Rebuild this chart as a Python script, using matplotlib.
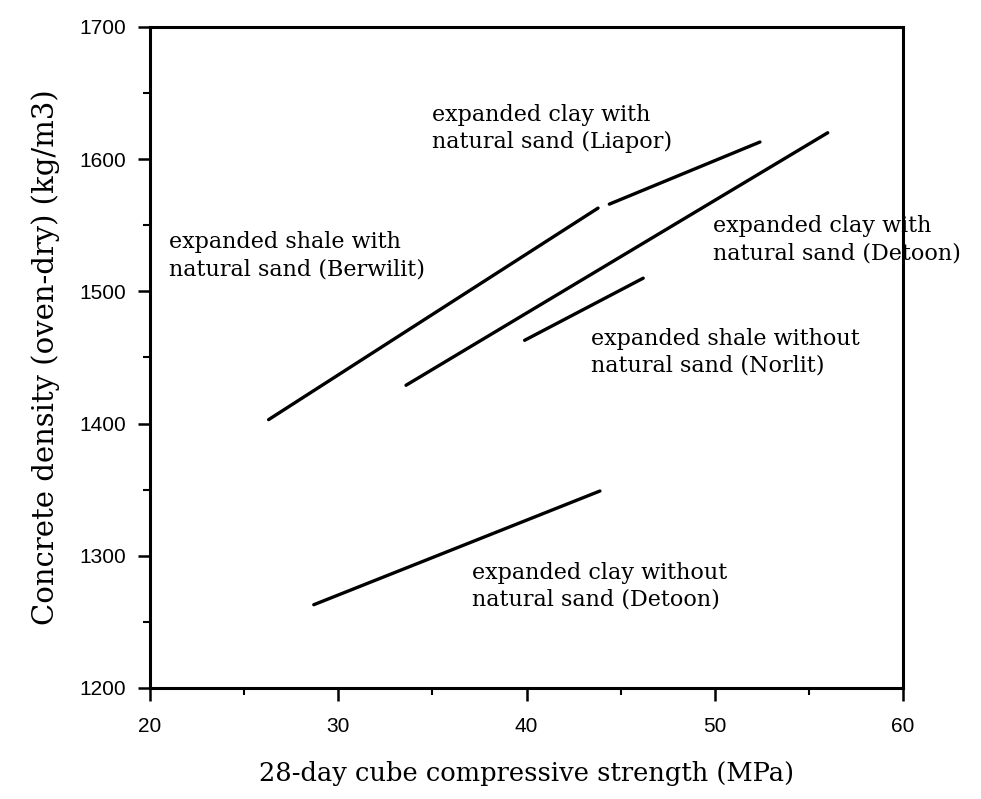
import numpy as np
import matplotlib
matplotlib.use("Agg")
from matplotlib import pyplot as plt
from matplotlib.ticker import MultipleLocator

# strength (MPa) / density (kg/m3) end points of each fitted line
berwilit_x = [26.3, 43.8]
berwilit_y = [1403, 1563]
liapor_x = [44.4, 52.4]
liapor_y = [1566, 1613]
detoon_sand_x = [33.6, 56.0]
detoon_sand_y = [1429, 1620]
norlit_x = [39.9, 46.2]
norlit_y = [1463, 1510]
detoon_x = [28.7, 43.9]
detoon_y = [1263, 1349]

labels = ["expanded shale with\nnatural sand (Berwilit)",
          "expanded clay with\nnatural sand (Liapor)",
          "expanded clay with\nnatural sand (Detoon)",
          "expanded shale without\nnatural sand (Norlit)",
          "expanded clay without\nnatural sand (Detoon)"]
label_x = [21.0, 35.0, 49.9, 43.4, 37.1]
label_y = [1527, 1623, 1539, 1454, 1277]

serif = "DejaVu Serif"
sans = "Liberation Sans"

fig = plt.figure(figsize=(9.81, 7.99), dpi=100)
ax = fig.add_axes([150/981, 1-688/799, (903-150)/981, (688-27)/799])

for xs, ys in [(berwilit_x, berwilit_y), (liapor_x, liapor_y),
               (detoon_sand_x, detoon_sand_y), (norlit_x, norlit_y),
               (detoon_x, detoon_y)]:
    ax.plot(xs, ys, color='black', lw=2.4, solid_capstyle='round')

for t, x, y in zip(labels, label_x, label_y):
    ax.text(x, y, t, family=serif, fontsize=16, ha='left', va='center',
            linespacing=1.3)

ax.set_xlim(20, 60)
ax.set_ylim(1200, 1700)
ax.xaxis.set_major_locator(MultipleLocator(10))
ax.xaxis.set_minor_locator(MultipleLocator(5))
ax.yaxis.set_major_locator(MultipleLocator(100))
ax.yaxis.set_minor_locator(MultipleLocator(50))
ax.tick_params(which='major', direction='out', length=9, width=1.8,
               labelsize=15, labelfontfamily=sans, pad=8)
ax.tick_params(which='minor', direction='out', length=5, width=1.5)
ax.tick_params(axis='x', which='major', pad=12)
for s in ax.spines.values():
    s.set_linewidth(2.2)

ax.set_xlabel("28-day cube compressive strength (MPa)", family=serif,
              fontsize=18.5, labelpad=18)
ax.set_ylabel("Concrete density (oven-dry) (kg/m3)", family=serif,
              fontsize=21, labelpad=14)

plt.savefig("out.png", dpi=100)
